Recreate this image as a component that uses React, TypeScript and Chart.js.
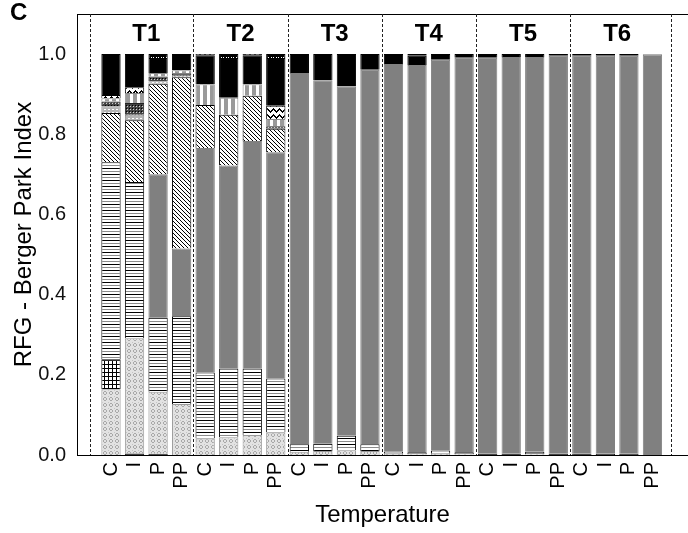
import React, { useEffect, useRef } from 'react';
import { Chart, registerables } from 'chart.js';

Chart.register(...registerables);

// ---------- data ----------
const groups = ['T1', 'T2', 'T3', 'T4', 'T5', 'T6'];
const treatments = ['C', 'I', 'P', 'PP'];
const xLabels = groups.flatMap(() => treatments);
const yTickValues = [0, 0.2, 0.4, 0.6, 0.8, 1.0];
const groupBounds = [-0.88, 3.5, 7.5, 11.5, 15.5, 19.5, 23.78];

// order per bar: T1 C,I,P,PP | T2 ... | T6
const bottomDark = [0, 0.004, 0.003, 0, 0, 0, 0, 0, 0, 0, 0, 0, 0, 0, 0, 0, 0.004, 0.004, 0, 0.004, 0.004, 0.003, 0.003, 0];
const dotted = [0.164, 0.287, 0.155, 0.127, 0.041, 0.044, 0.05, 0.056, 0.008, 0.01, 0.012, 0.01, 0.003, 0.002, 0.003, 0.002, 0, 0, 0.002, 0, 0, 0, 0, 0];
const gridded = [0.075, 0, 0, 0, 0, 0, 0, 0, 0, 0, 0, 0, 0, 0, 0, 0, 0, 0, 0, 0, 0, 0, 0, 0];
const hlined = [0.491, 0.39, 0.185, 0.219, 0.165, 0.172, 0.166, 0.135, 0.019, 0.018, 0.036, 0.017, 0.006, 0.005, 0.008, 0.005, 0, 0, 0.006, 0, 0, 0, 0, 0];
const solidGray = [0, 0, 0.357, 0.169, 0.56, 0.506, 0.567, 0.564, 0.926, 0.907, 0.872, 0.934, 0.966, 0.966, 0.975, 0.984, 0.987, 0.989, 0.985, 0.992, 0.992, 0.993, 0.993, 0.999];
const diagonal = [0.123, 0.154, 0.226, 0.427, 0.107, 0.127, 0.113, 0.059, 0, 0, 0, 0, 0, 0, 0, 0, 0, 0, 0, 0, 0, 0, 0, 0];
const lightBand = [0.017, 0.014, 0.006, 0.004, 0, 0, 0, 0, 0, 0, 0, 0, 0, 0, 0, 0, 0, 0, 0, 0, 0, 0, 0, 0];
const checkered = [0.012, 0.029, 0.012, 0.006, 0, 0, 0, 0.006, 0, 0, 0, 0, 0, 0, 0, 0, 0, 0, 0, 0, 0, 0, 0, 0];
const vStriped = [0.008, 0.025, 0.009, 0.008, 0.052, 0.042, 0.029, 0.018, 0, 0, 0, 0, 0, 0, 0, 0, 0, 0, 0, 0, 0, 0, 0, 0];
const zigzag = [0.008, 0.014, 0, 0, 0, 0, 0, 0.033, 0, 0, 0, 0, 0, 0, 0, 0, 0, 0, 0, 0, 0, 0, 0, 0];
const solidBlack = [0.102, 0.083, 0.037, 0.04, 0.072, 0.099, 0.072, 0.119, 0.047, 0.065, 0.08, 0.039, 0.025, 0.023, 0.014, 0.009, 0.009, 0.007, 0.007, 0.004, 0.004, 0.004, 0.004, 0.001];
const squared = [0, 0, 0.01, 0, 0.003, 0.01, 0.003, 0.01, 0, 0, 0, 0, 0, 0.004, 0, 0, 0, 0, 0, 0, 0, 0, 0, 0];

const FONT = '"Liberation Sans", Arial, sans-serif';

type Draw = (g: CanvasRenderingContext2D) => void;
function tile(w: number, h: number, draw: Draw): CanvasPattern | string {
  const c = document.createElement('canvas');
  c.width = w;
  c.height = h;
  const g = c.getContext('2d')!;
  draw(g);
  return g.createPattern(c, 'repeat') || '#888';
}
function px(g: CanvasRenderingContext2D, color: string, pts: number[][]) {
  g.fillStyle = color;
  pts.forEach(([x, y]) => g.fillRect(x, y, 1, 1));
}

function makeStyles() {
  const dots = tile(6, 6, (g) => {
    g.fillStyle = '#e2e2e2';
    g.fillRect(0, 0, 6, 6);
    px(g, '#a8a8a8', [[2, 1], [3, 1], [1, 2], [4, 2], [1, 3], [4, 3], [2, 4], [3, 4]]);
    px(g, '#c4c4c4', [[0, 0]]);
  });
  const grid = tile(4, 4, (g) => {
    g.fillStyle = '#fff';
    g.fillRect(0, 0, 4, 4);
    g.fillStyle = '#000';
    g.fillRect(0, 0, 4, 1);
    g.fillRect(0, 0, 1, 4);
  });
  const hl = tile(4, 6, (g) => {
    g.fillStyle = '#fff';
    g.fillRect(0, 0, 4, 6);
    g.fillStyle = '#000';
    g.fillRect(0, 0, 4, 1);
    g.fillStyle = '#8c8c8c';
    g.fillRect(0, 3, 4, 1);
  });
  const diag = tile(4, 4, (g) => {
    g.fillStyle = '#fff';
    g.fillRect(0, 0, 4, 4);
    px(g, '#000', [[0, 0], [1, 1], [2, 2], [3, 3]]);
  });
  const band = tile(4, 3, (g) => {
    g.fillStyle = '#b4b4b4';
    g.fillRect(0, 0, 4, 3);
    g.fillStyle = '#fff';
    g.fillRect(0, 1, 2, 1);
  });
  const checker = tile(3, 3, (g) => {
    g.fillStyle = '#444';
    g.fillRect(0, 0, 3, 3);
    px(g, '#d0d0d0', [[1, 1]]);
    px(g, '#000', [[0, 0]]);
  });
  const vs = tile(7, 1, (g) => {
    g.fillStyle = '#fff';
    g.fillRect(0, 0, 7, 1);
    g.fillStyle = '#9a9a9a';
    g.fillRect(0, 0, 4, 1);
  });
  const zz = tile(6, 6, (g) => {
    g.fillStyle = '#fff';
    g.fillRect(0, 0, 6, 6);
    px(g, '#000', [[0, 3], [1, 2], [2, 1], [3, 0], [4, 1], [5, 2], [0, 4], [1, 3], [2, 2], [3, 1], [4, 2], [5, 3]]);
  });
  const sq = tile(5, 4, (g) => {
    g.fillStyle = '#000';
    g.fillRect(0, 0, 5, 4);
    g.fillStyle = '#fff';
    g.fillRect(1, 1, 3, 2);
    px(g, '#000', [[2, 1]]);
  });
  return { dots, grid, hl, diag, band, checker, vs, zz, sq };
}

const decor = {
  id: 'decor',
  beforeDatasetsDraw(chart: any) {
    const { ctx, chartArea, scales } = chart;
    const x = scales.x;
    ctx.save();
    ctx.strokeStyle = '#000';
    ctx.lineWidth = 1;
    ctx.beginPath();
    ctx.moveTo(chartArea.left, chartArea.top + 0.5);
    ctx.lineTo(chartArea.right, chartArea.top + 0.5);
    ctx.stroke();
    ctx.setLineDash([3, 2]);
    ctx.strokeStyle = '#222';
    groupBounds.forEach((v) => {
      const p = Math.round(x.getPixelForValue(v)) + 0.5;
      ctx.beginPath();
      ctx.moveTo(p, chartArea.top);
      ctx.lineTo(p, chartArea.bottom);
      ctx.stroke();
    });
    ctx.restore();
  },
  afterDraw(chart: any) {
    const { ctx, chartArea, scales } = chart;
    const x = scales.x;
    ctx.save();
    ctx.fillStyle = '#000';
    ctx.font = `bold 24px ${FONT}`;
    ctx.textAlign = 'center';
    ctx.textBaseline = 'middle';
    groups.forEach((g, i) => {
      ctx.fillText(g, x.getPixelForValue(i * treatments.length + (treatments.length - 1) / 2), chartArea.top + 20);
    });
    ctx.textAlign = 'left';
    ctx.fillText('C', 10, 13);
    ctx.restore();
  },
};

function zeroPadding(scale: any) {
  scale.paddingLeft = 0;
  scale.paddingRight = 0;
  scale.paddingTop = 0;
  scale.paddingBottom = 0;
}

export default function App() {
  const ref = useRef<HTMLCanvasElement>(null);
  useEffect(() => {
    document.body.style.margin = '0';
    const s = makeStyles();
    const series = [
      { label: 'bottomDark', data: bottomDark, bg: '#1a1a1a', bc: '#1a1a1a' },
      { label: 'dotted', data: dotted, bg: s.dots, bc: '#9a9a9a' },
      { label: 'gridded', data: gridded, bg: s.grid, bc: '#000' },
      { label: 'hlined', data: hlined, bg: s.hl, bc: '#000' },
      { label: 'solidGray', data: solidGray, bg: '#808080', bc: '#808080' },
      { label: 'diagonal', data: diagonal, bg: s.diag, bc: '#000' },
      { label: 'lightBand', data: lightBand, bg: s.band, bc: '#888' },
      { label: 'checkered', data: checkered, bg: s.checker, bc: '#222' },
      { label: 'vStriped', data: vStriped, bg: s.vs, bc: '#888' },
      { label: 'zigzag', data: zigzag, bg: s.zz, bc: '#000' },
      { label: 'solidBlack', data: solidBlack, bg: '#000', bc: '#000' },
      { label: 'squared', data: squared, bg: s.sq, bc: '#000' },
    ];
    const chart = new Chart(ref.current!, {
      type: 'bar',
      data: {
        datasets: series.map((d) => ({
          label: d.label,
          data: d.data.map((v, i) => ({ x: i, y: v === 0 ? null : v })),
          backgroundColor: d.bg as any,
          borderColor: d.bc,
          borderWidth: 1,
          borderSkipped: 'start',
          categoryPercentage: 0.82,
          barPercentage: 1,
          stack: 'all',
        })),
      },
      options: {
        animation: false,
        responsive: false,
        events: [],
        layout: { padding: { top: 14, left: 0, right: 0, bottom: 0 } },
        plugins: { legend: { display: false }, tooltip: { enabled: false }, title: { display: false } },
        scales: {
          x: {
            type: 'linear',
            offset: false,
            stacked: true,
            min: -1.444,
            max: 24.51,
            grid: { display: false, drawTicks: false },
            border: { display: true, color: '#000', width: 1 },
            afterBuildTicks: (axis: any) => {
              axis.ticks = xLabels.map((_, i) => ({ value: i }));
            },
            afterFit: (scale: any) => {
              scale.height = 78;
              zeroPadding(scale);
            },
            ticks: {
              autoSkip: false,
              minRotation: 90,
              maxRotation: 90,
              padding: 7,
              color: '#000',
              font: { family: FONT, size: 20 },
              callback: (_v: any, i: number) => xLabels[i],
            },
            title: {
              display: true,
              text: 'Temperature',
              color: '#000',
              font: { family: FONT, size: 24 },
              padding: { top: 0, bottom: 3 },
            },
          },
          y: {
            stacked: true,
            min: 0,
            max: 1.1,
            grid: { display: false, drawTicks: false },
            border: { display: true, color: '#000', width: 1 },
            afterBuildTicks: (axis: any) => {
              axis.ticks = yTickValues.map((v) => ({ value: v }));
            },
            afterFit: (scale: any) => {
              scale.width = 77;
              zeroPadding(scale);
            },
            ticks: {
              padding: 11,
              color: '#111',
              font: { family: FONT, size: 20 },
              callback: (v: any) => Number(v).toFixed(1),
            },
            title: {
              display: true,
              text: 'RFG - Berger Park Index',
              color: '#000',
              font: { family: FONT, size: 24 },
              padding: { top: 10, bottom: 0 },
            },
          },
        },
      },
      plugins: [decor],
    });
    return () => chart.destroy();
  }, []);
  return (
    <div style={{ width: 688, height: 533 }}>
      <canvas ref={ref} width={688} height={533} style={{ display: 'block' }} />
    </div>
  );
}
